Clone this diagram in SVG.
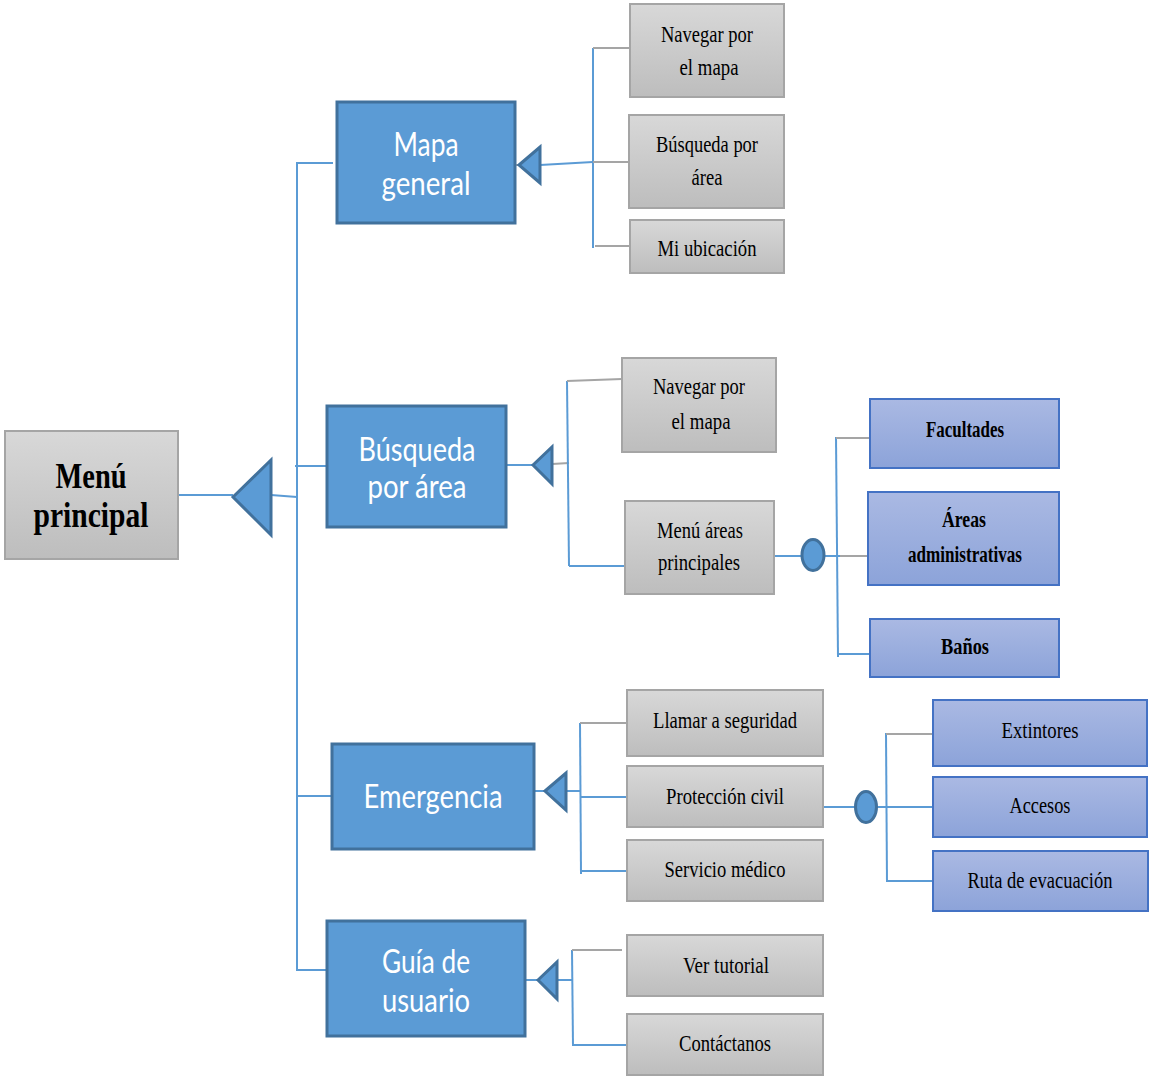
<svg xmlns="http://www.w3.org/2000/svg" width="1151" height="1078" viewBox="0 0 1151 1078">
  <defs>
    <linearGradient id="grayFill" x1="0" y1="0" x2="0" y2="1">
      <stop offset="0" stop-color="#D8D8D8"/>
      <stop offset="1" stop-color="#BDBDBD"/>
    </linearGradient>
    <linearGradient id="lilacFill" x1="0" y1="0" x2="0" y2="1">
      <stop offset="0" stop-color="#AAB9E3"/>
      <stop offset="1" stop-color="#8CA3D9"/>
    </linearGradient>
    <style>
      .gray { fill: url(#grayFill); stroke: #A5A5A5; stroke-width: 2; }
      .blue { fill: #5B9BD5; stroke: #41719C; stroke-width: 3; }
      .lilac { fill: url(#lilacFill); stroke: #4472C4; stroke-width: 2; }
      .tri { fill: #5B9BD5; stroke: #41719C; stroke-width: 3; stroke-linejoin: miter; }
      .dot { fill: #5B9BD5; stroke: #41719C; stroke-width: 3; }
      .lb { stroke: #5B9BD5; stroke-width: 2; fill: none; }
      .lg { stroke: #A5A5A5; stroke-width: 2; fill: none; }
      text { text-anchor: middle; }
      .t-main { font-family: "Liberation Serif", serif; font-weight: bold; font-size: 35px; fill: #000; }
      .t-blue { font-family: Lato, "Open Sans", sans-serif; font-size: 33px; fill: #FFFFFF; }
      .t-gray { font-family: "Liberation Serif", serif; font-size: 23px; fill: #000; }
      .t-bold { font-family: "Liberation Serif", serif; font-weight: bold; font-size: 23px; fill: #000; }
    </style>
  </defs>

  <!-- connectors -->
  <g id="connectors">
    <!-- root to trunk -->
    <line class="lb" x1="178" y1="495" x2="233" y2="495"/>
    <line class="lb" x1="271" y1="495" x2="297" y2="497"/>
    <line class="lb" x1="297" y1="162" x2="297" y2="971"/>
    <line class="lb" x1="297" y1="163" x2="333" y2="163"/>
    <line class="lb" x1="295" y1="466" x2="327" y2="466"/>
    <line class="lb" x1="297" y1="796" x2="332" y2="796"/>
    <line class="lb" x1="297" y1="970" x2="327" y2="970"/>
    <polygon class="tri" points="233,497 271,460 271,535"/>

    <!-- Mapa general branch -->
    <line class="lg" x1="515" y1="165" x2="519" y2="165"/>
    <line class="lb" x1="540" y1="165" x2="593" y2="162"/>
    <line class="lb" x1="593" y1="48" x2="593" y2="248"/>
    <line class="lg" x1="593" y1="48" x2="630" y2="48"/>
    <line class="lg" x1="593" y1="162" x2="629" y2="162"/>
    <line class="lg" x1="595" y1="246" x2="630" y2="246"/>
    <polygon class="tri" points="519,165 540,147 540,183"/>

    <!-- Búsqueda por área branch -->
    <line class="lb" x1="506" y1="465" x2="533" y2="465"/>
    <line class="lg" x1="552" y1="464" x2="569" y2="463"/>
    <line class="lb" x1="567" y1="381" x2="569" y2="566"/>
    <line class="lg" x1="567" y1="381" x2="622" y2="379"/>
    <line class="lb" x1="569" y1="566" x2="624" y2="566"/>
    <polygon class="tri" points="533,465 552,447 552,484"/>

    <!-- Menú áreas principales sub-branch -->
    <line class="lb" x1="774" y1="556" x2="802" y2="556"/>
    <line class="lb" x1="824" y1="556" x2="840" y2="556"/>
    <line class="lg" x1="840" y1="556" x2="868" y2="556"/>
    <line class="lb" x1="836" y1="437" x2="838" y2="657"/>
    <line class="lg" x1="836" y1="438" x2="870" y2="438"/>
    <line class="lb" x1="838" y1="654" x2="870" y2="654"/>
    <ellipse class="dot" cx="813" cy="555" rx="11" ry="15.5"/>

    <!-- Emergencia branch -->
    <line class="lb" x1="534" y1="791" x2="545" y2="791"/>
    <line class="lb" x1="566" y1="791" x2="580" y2="791"/>
    <line class="lb" x1="580" y1="723" x2="581" y2="874"/>
    <line class="lg" x1="580" y1="723" x2="627" y2="723"/>
    <line class="lb" x1="580" y1="797" x2="627" y2="797"/>
    <line class="lb" x1="581" y1="871" x2="627" y2="871"/>
    <polygon class="tri" points="545,791 566,773 566,810"/>

    <!-- Protección civil sub-branch -->
    <line class="lb" x1="823" y1="807" x2="855" y2="807"/>
    <line class="lb" x1="876" y1="807" x2="933" y2="807"/>
    <line class="lb" x1="886" y1="733" x2="887" y2="882"/>
    <line class="lg" x1="886" y1="734" x2="933" y2="734"/>
    <line class="lb" x1="887" y1="881" x2="933" y2="881"/>
    <ellipse class="dot" cx="866" cy="807" rx="10.5" ry="15.5"/>

    <!-- Guía de usuario branch -->
    <line class="lb" x1="525" y1="980" x2="538" y2="980"/>
    <line class="lb" x1="557" y1="980" x2="572" y2="980"/>
    <line class="lb" x1="572" y1="950" x2="573" y2="1046"/>
    <line class="lg" x1="572" y1="950" x2="622" y2="950"/>
    <line class="lb" x1="573" y1="1045" x2="627" y2="1045"/>
    <polygon class="tri" points="538,980 557,962 557,999"/>
  </g>

  <!-- root -->
  <g id="menu-principal">
    <rect class="gray" x="5" y="431" width="173" height="128"/>
    <text class="t-main" x="91" y="488" textLength="71" lengthAdjust="spacingAndGlyphs">Menú</text>
    <text class="t-main" x="91" y="527" textLength="115" lengthAdjust="spacingAndGlyphs">principal</text>
  </g>

  <!-- level 1 -->
  <g id="mapa-general">
    <rect class="blue" x="337" y="102" width="178" height="121"/>
    <text class="t-blue" x="426" y="156" textLength="65" lengthAdjust="spacingAndGlyphs">Mapa</text>
    <text class="t-blue" x="426" y="195" textLength="89" lengthAdjust="spacingAndGlyphs">general</text>
  </g>
  <g id="busqueda-area">
    <rect class="blue" x="327" y="406" width="179" height="121"/>
    <text class="t-blue" x="417" y="461" textLength="117" lengthAdjust="spacingAndGlyphs">Búsqueda</text>
    <text class="t-blue" x="417" y="498" textLength="99" lengthAdjust="spacingAndGlyphs">por área</text>
  </g>
  <g id="emergencia">
    <rect class="blue" x="332" y="744" width="202" height="105"/>
    <text class="t-blue" x="433" y="808" textLength="139" lengthAdjust="spacingAndGlyphs">Emergencia</text>
  </g>
  <g id="guia-usuario">
    <rect class="blue" x="327" y="921" width="198" height="115"/>
    <text class="t-blue" x="426" y="973" textLength="88" lengthAdjust="spacingAndGlyphs">Guía de</text>
    <text class="t-blue" x="426" y="1012" textLength="88" lengthAdjust="spacingAndGlyphs">usuario</text>
  </g>

  <!-- Mapa general options -->
  <g id="mg-navegar">
    <rect class="gray" x="630" y="4" width="154" height="93"/>
    <text class="t-gray" x="707" y="42" textLength="92" lengthAdjust="spacingAndGlyphs">Navegar por</text>
    <text class="t-gray" x="709" y="75" textLength="59" lengthAdjust="spacingAndGlyphs">el mapa</text>
  </g>
  <g id="mg-busqueda">
    <rect class="gray" x="629" y="115" width="155" height="93"/>
    <text class="t-gray" x="707" y="152" textLength="102" lengthAdjust="spacingAndGlyphs">Búsqueda por</text>
    <text class="t-gray" x="707" y="185" textLength="31" lengthAdjust="spacingAndGlyphs">área</text>
  </g>
  <g id="mg-ubicacion">
    <rect class="gray" x="630" y="220" width="154" height="53"/>
    <text class="t-gray" x="707" y="256" textLength="99" lengthAdjust="spacingAndGlyphs">Mi ubicación</text>
  </g>

  <!-- Búsqueda por área options -->
  <g id="ba-navegar">
    <rect class="gray" x="622" y="358" width="154" height="94"/>
    <text class="t-gray" x="699" y="394" textLength="92" lengthAdjust="spacingAndGlyphs">Navegar por</text>
    <text class="t-gray" x="701" y="429" textLength="59" lengthAdjust="spacingAndGlyphs">el mapa</text>
  </g>
  <g id="ba-menu-areas">
    <rect class="gray" x="625" y="501" width="149" height="93"/>
    <text class="t-gray" x="700" y="538" textLength="86" lengthAdjust="spacingAndGlyphs">Menú áreas</text>
    <text class="t-gray" x="699" y="570" textLength="82" lengthAdjust="spacingAndGlyphs">principales</text>
  </g>
  <g id="facultades">
    <rect class="lilac" x="870" y="399" width="189" height="69"/>
    <text class="t-bold" x="965" y="437" textLength="78" lengthAdjust="spacingAndGlyphs">Facultades</text>
  </g>
  <g id="areas-administrativas">
    <rect class="lilac" x="868" y="492" width="191" height="93"/>
    <text class="t-bold" x="964" y="527" textLength="44" lengthAdjust="spacingAndGlyphs">Áreas</text>
    <text class="t-bold" x="965" y="562" textLength="114" lengthAdjust="spacingAndGlyphs">administrativas</text>
  </g>
  <g id="banos">
    <rect class="lilac" x="870" y="619" width="189" height="58"/>
    <text class="t-bold" x="965" y="654" textLength="48" lengthAdjust="spacingAndGlyphs">Baños</text>
  </g>

  <!-- Emergencia options -->
  <g id="llamar-seguridad">
    <rect class="gray" x="627" y="690" width="196" height="66"/>
    <text class="t-gray" x="725" y="728" textLength="144" lengthAdjust="spacingAndGlyphs">Llamar a seguridad</text>
  </g>
  <g id="proteccion-civil">
    <rect class="gray" x="627" y="766" width="196" height="61"/>
    <text class="t-gray" x="725" y="804" textLength="118" lengthAdjust="spacingAndGlyphs">Protección civil</text>
  </g>
  <g id="servicio-medico">
    <rect class="gray" x="627" y="840" width="196" height="61"/>
    <text class="t-gray" x="725" y="877" textLength="121" lengthAdjust="spacingAndGlyphs">Servicio médico</text>
  </g>
  <g id="extintores">
    <rect class="lilac" x="933" y="700" width="214" height="66"/>
    <text class="t-gray" x="1040" y="738" textLength="77" lengthAdjust="spacingAndGlyphs">Extintores</text>
  </g>
  <g id="accesos">
    <rect class="lilac" x="933" y="777" width="214" height="60"/>
    <text class="t-gray" x="1040" y="813" textLength="61" lengthAdjust="spacingAndGlyphs">Accesos</text>
  </g>
  <g id="ruta-evacuacion">
    <rect class="lilac" x="933" y="851" width="215" height="60"/>
    <text class="t-gray" x="1040" y="888" textLength="145" lengthAdjust="spacingAndGlyphs">Ruta de evacuación</text>
  </g>

  <!-- Guía de usuario options -->
  <g id="ver-tutorial">
    <rect class="gray" x="627" y="935" width="196" height="61"/>
    <text class="t-gray" x="726" y="973" textLength="86" lengthAdjust="spacingAndGlyphs">Ver tutorial</text>
  </g>
  <g id="contactanos">
    <rect class="gray" x="627" y="1014" width="196" height="61"/>
    <text class="t-gray" x="725" y="1051" textLength="92" lengthAdjust="spacingAndGlyphs">Contáctanos</text>
  </g>
</svg>
